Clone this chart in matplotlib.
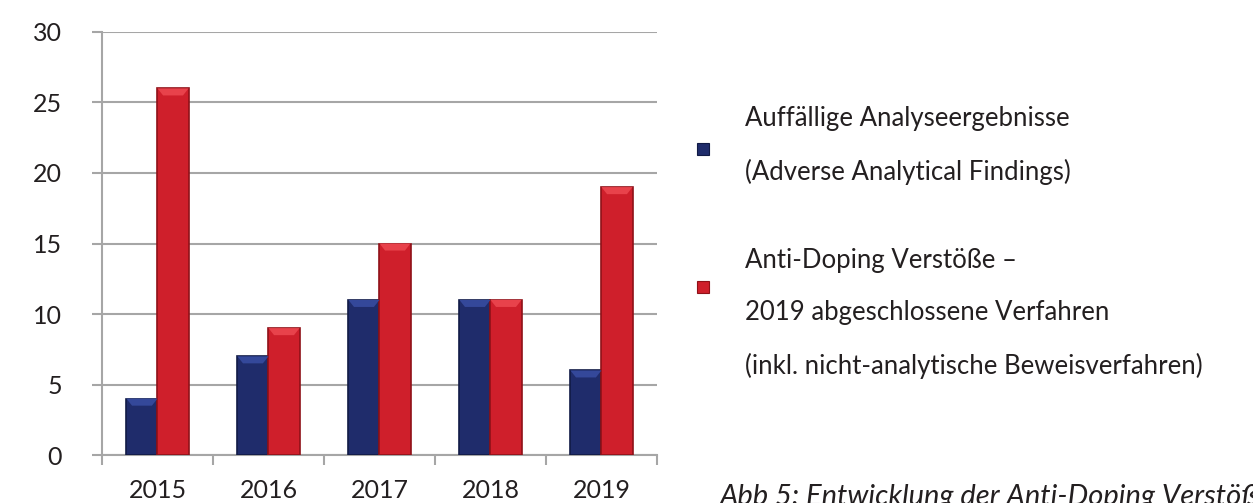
import matplotlib
matplotlib.use("Agg")
import matplotlib.pyplot as plt
import numpy as np
from matplotlib.patches import Rectangle, Polygon

plt.rcParams['font.family'] = ['Lato', 'DejaVu Sans']

# data
years = ['2015', '2016', '2017', '2018', '2019']
findings = [4, 7, 11, 11, 6]
violations = [26, 9, 15, 11, 19]

lines_findings = ['Auffällige Analyseergebnisse', '(Adverse Analytical Findings)']
lines_violations = ['Anti-Doping Verstöße –', '2019 abgeschlossene Verfahren',
                    '(inkl. nicht-analytische Beweisverfahren)']
caption = 'Abb 5: Entwicklung der Anti-Doping Verstöße'

blue = '#1f2c6b'
blue_edge = '#111a45'
blue_light = '#34489a'
red = '#cf1f2b'
red_edge = '#8f1118'
red_light = '#e8424b'
grid_gray = '#a6a6a6'
text_col = '#231f20'

fig = plt.figure(figsize=(12.53, 5.03), dpi=100)
ax = fig.add_axes([0.0814, 0.0954, 0.4429, 0.841])

x = np.arange(len(years))
w = 0.28
b1 = ax.bar(x - w / 2, findings, w, color=blue, edgecolor=blue_edge, linewidth=1.2, zorder=3)
b2 = ax.bar(x + w / 2, violations, w, color=red, edgecolor=red_edge, linewidth=1.2, zorder=3)

# bevelled top like the excel 3d style
for bars, light in [(b1, blue_light), (b2, red_light)]:
    for r in bars:
        x0, y1, bw = r.get_x(), r.get_height(), r.get_width()
        bev = 0.5
        ins = bw * 0.18
        ax.add_patch(Polygon([(x0, y1), (x0 + bw, y1), (x0 + bw - ins, y1 - bev), (x0 + ins, y1 - bev)],
                             closed=True, facecolor=light, edgecolor='none', zorder=4))

ax.set_xlim(-0.5, len(years) - 0.5)
ax.set_ylim(0, 30)
ax.set_yticks(range(0, 31, 5))
ax.yaxis.grid(True, color=grid_gray, linewidth=1.5, zorder=0)
ax.set_axisbelow(True)

# category ticks sit between the groups
ax.set_xticks(x)
ax.set_xticklabels(years)
ax.set_xticks(np.arange(-0.5, len(years)), minor=True)
ax.tick_params(axis='x', which='major', length=0, pad=17, labelsize=18, labelcolor=text_col)
ax.tick_params(axis='x', which='minor', length=7, width=1.5, color=grid_gray, direction='out')
ax.tick_params(axis='y', length=7, width=1.5, color=grid_gray, pad=22, labelsize=18, labelcolor=text_col)

for s in ['top', 'right']:
    ax.spines[s].set_visible(False)
for s in ['left', 'bottom']:
    ax.spines[s].set_color(grid_gray)
    ax.spines[s].set_linewidth(1.5)

# legend drawn by hand to match the spacing of the original
line_y_f = [0.765, 0.658]
line_y_v = [0.483, 0.378, 0.272]
for txt, yy in zip(lines_findings, line_y_f):
    fig.text(0.5946, yy, txt, fontsize=18.5, color=text_col, va='center')
for txt, yy in zip(lines_violations, line_y_v):
    fig.text(0.5946, yy, txt, fontsize=18.5, color=text_col, va='center')
sq_w, sq_h = 12 / 1253, 12 / 503
fig.add_artist(Rectangle((0.5563, 0.6918), sq_w, sq_h, transform=fig.transFigure,
                         facecolor=blue, edgecolor=blue_edge, linewidth=0.8))
fig.add_artist(Rectangle((0.5563, 0.4175), sq_w, sq_h, transform=fig.transFigure,
                         facecolor=red, edgecolor=red_edge, linewidth=0.8))

# caption runs off the bottom/right edge as in the original
fig.text(0.5746, -0.004, caption, fontsize=21, style='italic', color=text_col, va='baseline')

fig.savefig('out.png', dpi=100)
